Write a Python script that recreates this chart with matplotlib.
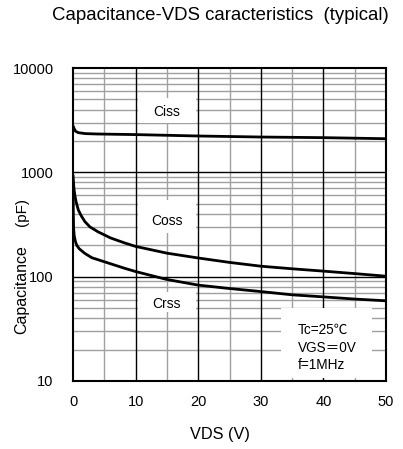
import matplotlib
matplotlib.use("Agg")
import matplotlib.pyplot as plt
from matplotlib.patches import Rectangle
import numpy as np

plt.rcParams['font.family'] = ['Liberation Sans', 'DejaVu Sans']

# Data
ciss_v = [0, 0.15, 0.4, 0.85, 2, 4, 10, 20, 30, 40, 50]
ciss_c = [2800, 2650, 2480, 2400, 2350, 2330, 2300, 2230, 2180, 2150, 2100]

coss_v = [0, 0.15, 0.3, 0.5, 0.85, 1.3, 1.9, 2.7, 4, 6, 8.3, 10, 15, 20, 25, 30, 35, 40, 45, 50]
coss_c = [950, 700, 600, 520, 436, 385, 337, 300, 269, 235, 210, 195, 168, 151, 137, 126, 119, 113, 107, 101]

crss_v = [0, 0.05, 0.1, 0.2, 0.4, 0.6, 1, 1.9, 3, 5, 8.3, 10, 15, 20, 25, 30, 35, 40, 45, 50]
crss_c = [800, 400, 290, 245, 216, 200, 185, 167, 152, 139, 120, 112, 94, 83, 77, 72, 67, 64, 61, 58.7]

x_ticks = [0, 10, 20, 30, 40, 50]
y_ticks = [10, 100, 1000, 10000]

fig = plt.figure(figsize=(4.03, 4.49), dpi=100)
ax = fig.add_axes([73/403, 1-381/449, (386-73)/403, (381-68)/449])

ax.set_yscale('log')
ax.set_xlim(0, 50)
ax.set_ylim(10, 10000)

# grid
for xv in np.arange(5, 50, 10):
    ax.axvline(xv, color='#a0a0a0', lw=1.0, zorder=1)
for xv in np.arange(10, 50, 10):
    ax.axvline(xv, color='black', lw=1.0, zorder=1.5)
for dec in [10, 100, 1000]:
    for m in range(2, 10):
        ax.axhline(dec*m, color='#a0a0a0', lw=1.0, zorder=1)
for yv in [100, 1000]:
    ax.axhline(yv, color='black', lw=1.0, zorder=1.5)

# white label boxes
ax.add_patch(Rectangle((10.4, 2970), 9.2, 5150-2970, fc='white', ec='none', zorder=2))
ax.add_patch(Rectangle((10.4, 262), 9.2, 542-262, fc='white', ec='none', zorder=2))
ax.add_patch(Rectangle((10.4, 45.8), 9.2, 71-45.8, fc='white', ec='none', zorder=2))
ax.add_patch(Rectangle((33.3, 10.7), 14.4, 50-10.7, fc='white', ec='none', zorder=2))

ax.text(15, 3800, 'Ciss', ha='center', va='center', fontsize=10, zorder=3)
ax.text(15, 341, 'Coss', ha='center', va='center', fontsize=10, zorder=3)
ax.text(15, 54.6, 'Crss', ha='center', va='center', fontsize=10, zorder=3)

ax.text(35.9, 30.7, 'Tc=25\u2103', ha='left', va='center', fontsize=9.8, zorder=3,
        family=['Liberation Sans', 'Noto Sans CJK JP', 'DejaVu Sans'])
ax.text(35.9, 20.7, 'VGS\uff1d0V', ha='left', va='center', fontsize=9.8, zorder=3,
        family=['Liberation Sans', 'Noto Sans CJK JP', 'DejaVu Sans'])
ax.text(35.9, 14.2, 'f=1MHz', ha='left', va='center', fontsize=9.8, zorder=3)

ax.plot(ciss_v, ciss_c, color='black', lw=2.0, zorder=4, solid_capstyle='butt')
ax.plot(coss_v, coss_c, color='black', lw=2.0, zorder=4, solid_capstyle='butt')
ax.plot(crss_v, crss_c, color='black', lw=2.0, zorder=4, solid_capstyle='butt')

ax.set_xticks(x_ticks)
ax.set_xticklabels([str(v) for v in x_ticks])
ax.set_yticks(y_ticks)
ax.set_yticklabels([str(v) for v in y_ticks])
ax.yaxis.set_minor_locator(matplotlib.ticker.NullLocator())
ax.tick_params(length=0, labelsize=10.5)
ax.tick_params(axis='x', pad=10)
ax.tick_params(axis='y', pad=14)
for s in ax.spines.values():
    s.set_linewidth(1.5)
    s.set_zorder(5)

fig.text(220/403, 1-15/449, 'Capacitance-VDS caracteristics  (typical)', ha='center', va='center', fontsize=13.4)
fig.text(220/403, 1-435/449, 'VDS (V)', ha='center', va='center', fontsize=11.7)
fig.text(22/403, 1-290/449, 'Capacitance', ha='center', va='center', rotation=90, fontsize=11.5)
fig.text(22/403, 1-211.5/449, '(pF)', ha='center', va='center', rotation=90, fontsize=11)

fig.savefig('out.png', dpi=100)
